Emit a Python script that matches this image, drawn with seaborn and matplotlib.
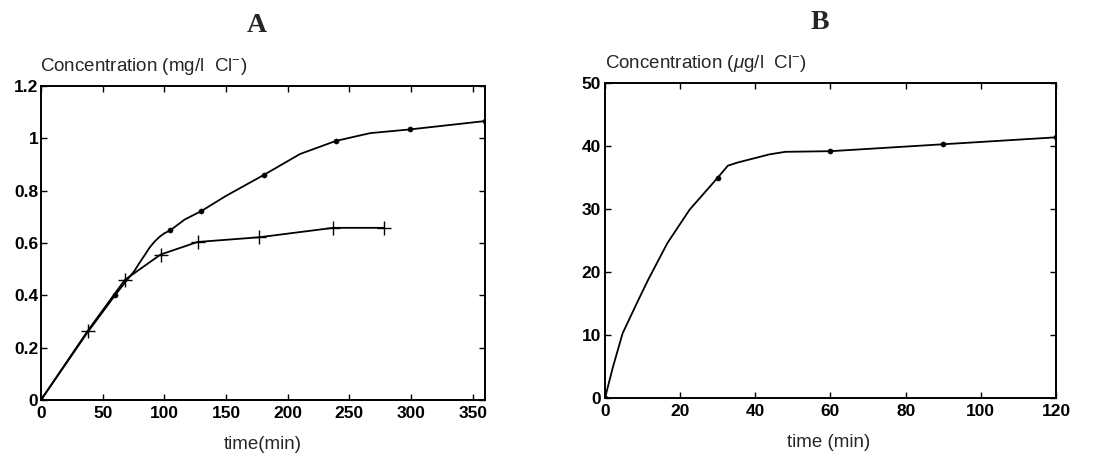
import matplotlib
matplotlib.use("Agg")
import matplotlib.pyplot as plt
import seaborn as sns

# ---- Panel A data (mg/l Cl-) ----
a1_curve_t = [0, 38, 60, 70, 76, 80, 84, 88, 92, 96, 100, 105, 116.6, 130, 150, 181, 210, 239, 267, 299, 360]
a1_curve_c = [0, 0.26, 0.40, 0.46, 0.495, 0.525, 0.553, 0.582, 0.605, 0.623, 0.637, 0.649, 0.690, 0.722, 0.78, 0.861, 0.94, 0.99, 1.02, 1.034, 1.066]
a1_pts_t = [0, 60, 105, 130, 181, 239, 299, 360]
a1_pts_c = [0, 0.40, 0.649, 0.722, 0.861, 0.99, 1.034, 1.066]

a2_t = [0, 38, 68, 97, 127, 177, 237, 278]
a2_c = [0, 0.265, 0.459, 0.556, 0.604, 0.622, 0.658, 0.658]

# ---- Panel B data (ug/l Cl-) ----
b_curve_t = [0, 2.1, 4.7, 8.9, 11.5, 16.6, 22.5, 30, 32.7, 35.3, 43.8, 48, 60, 90, 120]
b_curve_c = [0, 4.9, 10.3, 15.6, 18.8, 24.6, 29.9, 35, 36.9, 37.4, 38.7, 39.1, 39.2, 40.3, 41.4]
b_pts_t = [0, 30, 60, 90, 120]
b_pts_c = [0, 35, 39.2, 40.3, 41.4]

a_xticks = [0, 50, 100, 150, 200, 250, 300, 350]
a_yticks = [0, 0.2, 0.4, 0.6, 0.8, 1.0, 1.2]
a_ylabels = ["0", "0.2", "0.4", "0.6", "0.8", "1", "1.2"]
b_xticks = [0, 20, 40, 60, 80, 100, 120]
b_yticks = [0, 10, 20, 30, 40, 50]

sns.set_style("ticks")
plt.rcParams["font.family"] = ["Liberation Sans", "DejaVu Sans"]
plt.rcParams["mathtext.fontset"] = "custom"
plt.rcParams["mathtext.rm"] = "Liberation Sans"
plt.rcParams["mathtext.it"] = "Liberation Sans:italic"

fig = plt.figure(figsize=(10.98, 4.57), dpi=100)
axA = fig.add_axes([0.0373, 0.1247, 0.4044, 0.6871])
axB = fig.add_axes([0.551, 0.129, 0.4107, 0.689])

lw = 1.3
col = "black"

# Panel A
sns.lineplot(x=a1_curve_t, y=a1_curve_c, ax=axA, color=col, lw=lw, sort=False)
sns.scatterplot(x=a1_pts_t, y=a1_pts_c, ax=axA, color=col, s=14, marker="o", edgecolor=col, zorder=3)
sns.lineplot(x=a2_t, y=a2_c, ax=axA, color=col, lw=lw, sort=False)
sns.scatterplot(x=a2_t[1:], y=a2_c[1:], ax=axA, color=col, s=90, marker="+", linewidth=1.0, zorder=3)
axA.set_xlim(0, 360)
axA.set_ylim(0, 1.2)
axA.set_xticks(a_xticks)
axA.set_yticks(a_yticks)
axA.set_yticklabels(a_ylabels)

# Panel B
sns.lineplot(x=b_curve_t, y=b_curve_c, ax=axB, color=col, lw=lw, sort=False)
sns.scatterplot(x=b_pts_t, y=b_pts_c, ax=axB, color=col, s=14, marker="o", edgecolor=col, zorder=3)
axB.set_xlim(0, 120)
axB.set_ylim(0, 50)
axB.set_xticks(b_xticks)
axB.set_yticks(b_yticks)

for ax in (axA, axB):
    for sp in ax.spines.values():
        sp.set_visible(True)
        sp.set_linewidth(1.4)
        sp.set_color(col)
    ax.tick_params(direction="in", length=4, width=1, top=True, right=True,
                   labelsize=12.5, pad=4, colors=col)
    for lab in ax.get_xticklabels() + ax.get_yticklabels():
        lab.set_fontweight("bold")
    ax.set_xlabel("")
    ax.set_ylabel("")
axA.tick_params(axis="y", pad=2)
axB.tick_params(axis="y", pad=3)

# Texts
fig.text(0.234, 0.945, "A", family=["Liberation Serif", "DejaVu Serif"], fontsize=20,
         fontweight="bold", ha="center", va="center")
fig.text(0.747, 0.950, "B", family=["Liberation Serif", "DejaVu Serif"], fontsize=20,
         fontweight="bold", ha="center", va="center")
fig.text(0.0365, 0.855, "Concentration (mg/l  Cl$^{-}$)", fontsize=13.5, ha="left", va="center")
fig.text(0.551, 0.862, r"Concentration ($\mu$g/l  Cl$^{-}$)", fontsize=13.5, ha="left", va="center")
fig.text(0.239, 0.028, "time(min)", fontsize=13.5, ha="center", va="center")
fig.text(0.755, 0.032, "time (min)", fontsize=13.5, ha="center", va="center")

fig.savefig("out.png", dpi=100)
